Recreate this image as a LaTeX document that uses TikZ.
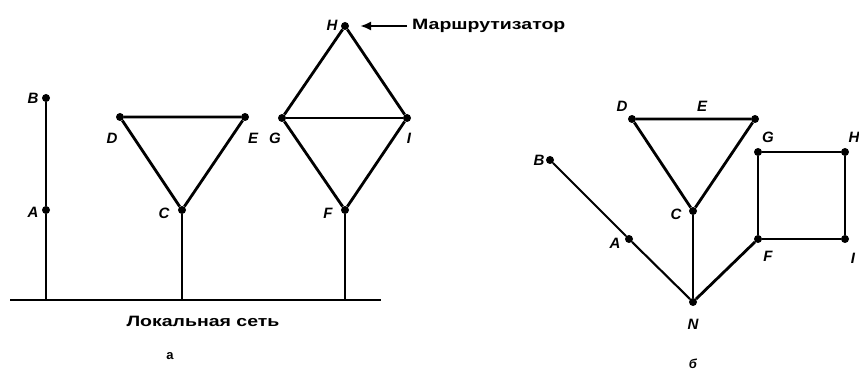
\documentclass[tikz,border=0pt]{standalone}
\usepackage{fontspec}
\setmainfont{Liberation Sans}
\usetikzlibrary{arrows.meta}
\begin{document}
\begin{tikzpicture}[x=1pt,y=-1pt,
  dot/.style={circle,fill=black,inner sep=0pt,minimum size=8pt},
  ln/.style={line width=2.8pt},
  thinln/.style={line width=2.1pt},
  lab/.style={font=\fontsize{15}{15}\selectfont\bfseries\itshape,inner sep=0pt},
  txt/.style={font=\fontsize{15}{15}\selectfont\bfseries,inner sep=0pt}]
\useasboundingbox (0,0) rectangle (859,371);
% ---------- panel a ----------
\node[dot] (aB) at (46,98) {};
\node[dot] (aA) at (46,210) {};
\node[dot] (aD) at (120,117) {};
\node[dot] (aE) at (245,117) {};
\node[dot] (aC) at (182,210) {};
\node[dot] (aH) at (345,26) {};
\node[dot] (aG) at (282,118) {};
\node[dot] (aI) at (407,118) {};
\node[dot] (aF) at (345,210) {};
\coordinate (busL) at (10,300);
\coordinate (busR) at (381,300);
\coordinate (fB) at (46,300);
\coordinate (fC) at (182,300);
\coordinate (fF) at (345,300);
\draw[line width=2.3pt] (busL) -- (busR);
\draw[ln] (aB) -- (aA) -- (fB);
\draw[ln] (aD) -- (aE) -- (aC) -- (aD);
\draw[ln] (aC) -- (fC);
\draw[ln] (aH) -- (aG) -- (aF) -- (aI) -- (aH);
\draw[ln] (aG) -- (aI);
\draw[thinln] (aF) -- (fF);
\node[lab] (laB) at (33,98) {B};
\node[lab] (laA) at (33,212) {A};
\node[lab] (laD) at (112,138) {D};
\node[lab] (laE) at (253,138) {E};
\node[lab] (laG) at (275,138) {G};
\node[lab] (laI) at (409,138) {I};
\node[lab] (laC) at (164,213) {C};
\node[lab] (laF) at (328,213) {F};
\node[lab] (laH) at (332,25) {H};
\node[txt,anchor=west] (router) at (412,26) {\scalebox{1.3}[1]{Маршрутизатор}};
\draw[line width=2.3pt,-{Latex[length=11pt,width=9pt]}] (router.west) ++(-5,0) coordinate (arrS) -- (360,26) coordinate (arrE);
\node[txt] (lan) at (203,321) {\scalebox{1.3}[1]{Локальная сеть}};
\node[font=\fontsize{13}{13}\selectfont\bfseries,inner sep=0pt] (capA) at (170,356) {а};
% ---------- panel b ----------
\node[dot] (bB) at (550,160) {};
\node[dot] (bA) at (629,239) {};
\node[dot] (bN) at (693,302) {};
\node[dot] (bC) at (693,211) {};
\node[dot] (bD) at (632,119) {};
\node[dot] (bE) at (755,119) {};
\node[dot] (bG) at (758,152) {};
\node[dot] (bH) at (845,152) {};
\node[dot] (bF) at (758,239) {};
\node[dot] (bI) at (845,239) {};
\draw[thinln] (bB) -- (bA) -- (bN);
\draw[ln] (bN) -- (bC);
\draw[ln] (bD) -- (bE) -- (bC) -- (bD);
\draw[ln] (bN) -- (bF);
\draw[ln] (bF) -- (bG) -- (bH) -- (bI) -- (bF);
\node[lab] (lbB) at (539,160) {B};
\node[lab] (lbA) at (615,243) {A};
\node[lab] (lbC) at (676,214) {C};
\node[lab] (lbN) at (693,324) {N};
\node[lab] (lbD) at (622,106) {D};
\node[lab] (lbE) at (702,106) {E};
\node[lab] (lbG) at (768,137) {G};
\node[lab] (lbH) at (854,137) {H};
\node[lab] (lbF) at (768,256) {F};
\node[lab] (lbI) at (853,258) {I};
\node[font=\fontsize{13}{13}\selectfont\bfseries\itshape,inner sep=0pt] (capB) at (693,364) {б};
\end{tikzpicture}
\end{document}
